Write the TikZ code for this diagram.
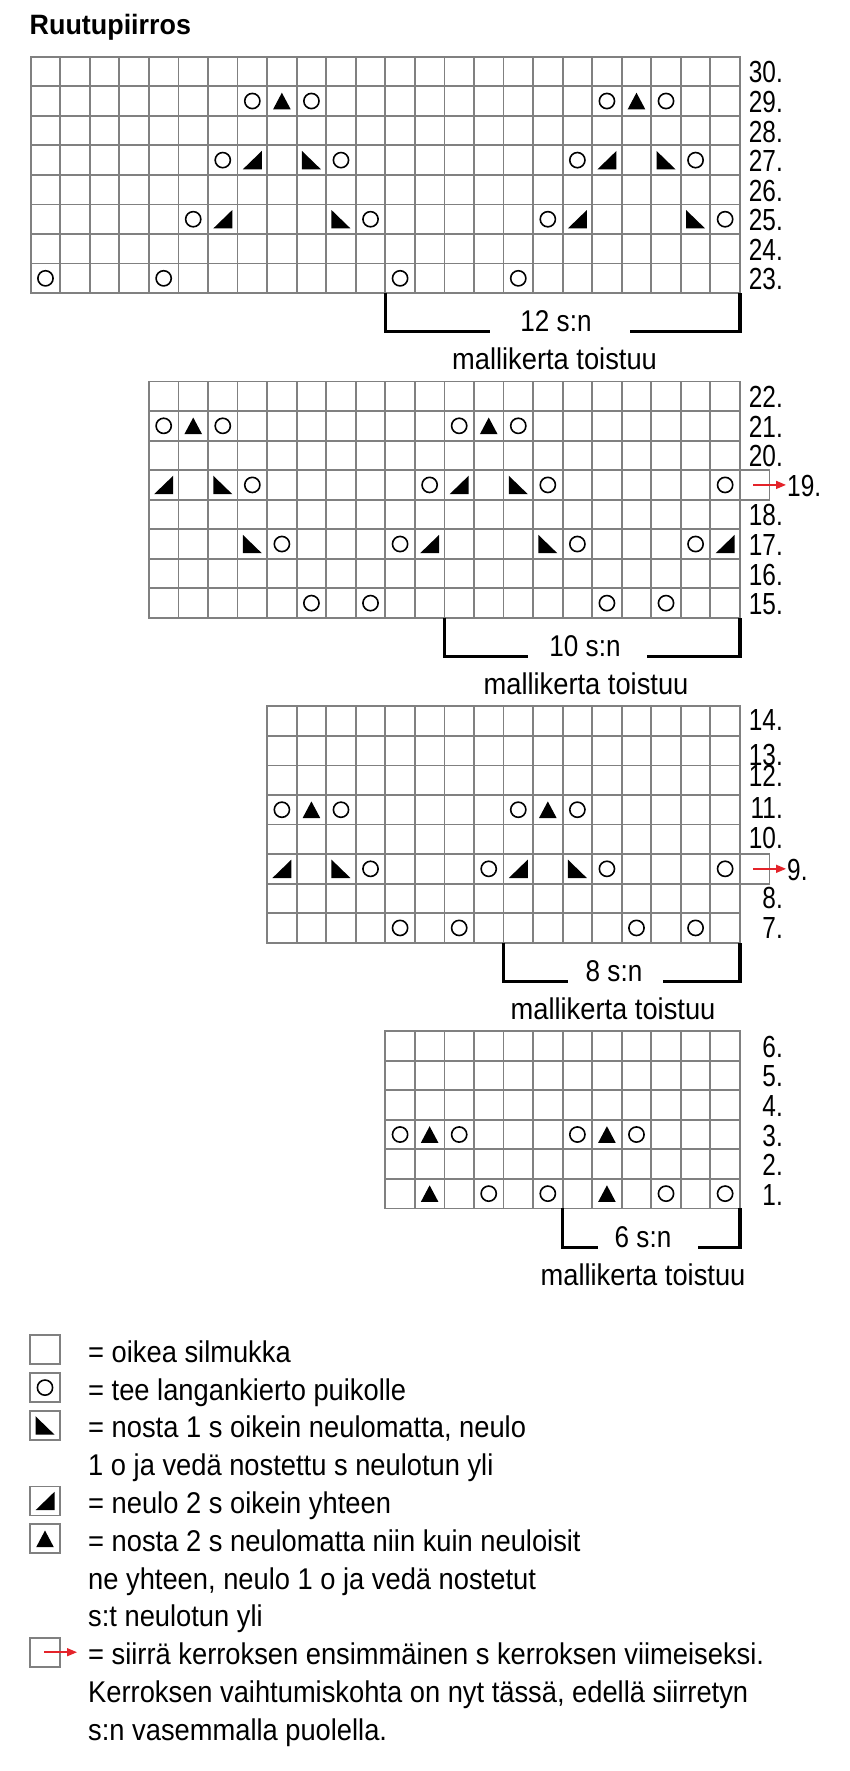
\documentclass[tikz,border=0pt]{standalone}
\usepackage{fontspec}
\setmainfont{Liberation Sans}
\newfontfamily\lblf[FakeStretch=0.8]{Liberation Sans}
\newfontfamily\legf[FakeStretch=0.91]{Liberation Sans}
\newfontfamily\repf[FakeStretch=0.87]{Liberation Sans}
\newfontfamily\titf[FakeStretch=0.96]{Liberation Sans}
\usetikzlibrary{arrows.meta}
\definecolor{gridgray}{HTML}{808080}
\definecolor{arrred}{HTML}{E4232A}
\begin{document}
\begin{tikzpicture}[x=1pt,y=-1pt,
  gridline/.style={draw=gridgray,line width=1.8pt,line cap=rect},
  brk/.style={draw=black,line width=3.6pt,line join=miter},
  redarr/.style={draw=arrred,line width=1.5pt,-{Triangle[length=10pt,width=8pt]}},
  lbl/.style={font=\lblf\fontsize{30.5}{30.5}\selectfont,inner sep=0pt,anchor=east},
  lblw/.style={font=\lblf\fontsize{30.5}{30.5}\selectfont,inner sep=0pt,anchor=west},
  leg/.style={font=\legf\fontsize{30}{36}\selectfont,inner sep=0pt,anchor=base west},
  cnt/.style={font=\legf\fontsize{30}{36}\selectfont,inner sep=0pt,anchor=base},
  rep/.style={font=\repf\fontsize{30}{36}\selectfont,inner sep=0pt,anchor=base},
  yo/.pic={\draw[line width=1.6pt] (0,0) circle[radius=7.6];},
  tri/.pic={\fill (-8.8,8.3) -- (8.8,8.3) -- (0,-8.3) -- cycle;},
  rt/.pic={\fill (-9.5,9.2) -- (9.5,9.2) -- (9.5,-9.2) -- cycle;},
  lt/.pic={\fill (-9.5,-9.2) -- (-9.5,9.2) -- (9.5,9.2) -- cycle;}
]
\def\cel{29.55}
\useasboundingbox[fill=white] (0,0) rectangle (850,1771);

% title
\node[font=\titf\bfseries\fontsize{28}{28}\selectfont,inner sep=0pt,anchor=base west] (title) at (29.5,35) {Ruutupiirros};

% ---------- chart 1 ----------
\begin{scope}[shift={(30.7,56.7)}]
\foreach \i in {0,...,24} \draw[gridline] ({\i*\cel},0) -- ({\i*\cel},{8*\cel});
\foreach \j in {0,...,8} \draw[gridline] (0,{\j*\cel}) -- ({24*\cel},{\j*\cel});
\foreach \c/\r in {8/2,10/2,20/2,22/2,7/4,11/4,19/4,23/4,6/6,12/6,18/6,24/6,1/8,5/8,13/8,17/8}
  \pic at ({(\c-0.5)*\cel},{(\r-0.5)*\cel}) {yo};
\foreach \c/\r in {9/2,21/2}
  \pic at ({(\c-0.5)*\cel},{(\r-0.5)*\cel}) {tri};
\foreach \c/\r in {8/4,20/4,7/6,19/6}
  \pic at ({(\c-0.5)*\cel},{(\r-0.5)*\cel}) {rt};
\foreach \c/\r in {10/4,22/4,11/6,23/6}
  \pic at ({(\c-0.5)*\cel},{(\r-0.5)*\cel}) {lt};
\end{scope}
\foreach \n/\r in {30/1,29/2,28/3,27/4,26/5,25/6,24/7,23/8}
  \node[lbl] (r\n) at (783,{56.7+(\r-0.5)*\cel+1}) {\n.};
\draw[brk] (385.3,293.1) -- (385.3,331.6) -- (490,331.6);
\draw[brk] (630,331.6) -- (739.9,331.6) -- (739.9,293.1);
\node[rep] (rep1) at (556,331.6) {12 s:n};
\node[cnt] (mk1) at (554.5,369.5) {mallikerta toistuu};

% ---------- chart 2 ----------
\begin{scope}[shift={(148.9,381.5)}]
\foreach \i in {0,...,20} \draw[gridline] ({\i*\cel},0) -- ({\i*\cel},{8*\cel});
\foreach \j in {0,...,8} \draw[gridline] (0,{\j*\cel}) -- ({20*\cel},{\j*\cel});
\draw[gridline] ({20*\cel},{3*\cel}) rectangle ({21*\cel},{4*\cel});
\foreach \c/\r in {1/2,3/2,11/2,13/2,4/4,10/4,14/4,20/4,5/6,9/6,15/6,19/6,6/8,8/8,16/8,18/8}
  \pic at ({(\c-0.5)*\cel},{(\r-0.5)*\cel}) {yo};
\foreach \c/\r in {2/2,12/2}
  \pic at ({(\c-0.5)*\cel},{(\r-0.5)*\cel}) {tri};
\foreach \c/\r in {1/4,11/4,10/6,20/6}
  \pic at ({(\c-0.5)*\cel},{(\r-0.5)*\cel}) {rt};
\foreach \c/\r in {3/4,13/4,4/6,14/6}
  \pic at ({(\c-0.5)*\cel},{(\r-0.5)*\cel}) {lt};
\end{scope}
\foreach \n/\r in {22/1,21/2,20/3,18/5,17/6,16/7,15/8}
  \node[lbl] (r\n) at (783,{381.5+(\r-0.5)*\cel+1}) {\n.};
\node[lblw] (r19) at (787,{381.5+3.5*\cel+1}) {19.};
\coordinate (a19) at (753,{381.5+3.5*\cel});
\draw[redarr] (a19) -- (786,{381.5+3.5*\cel});
\draw[brk] (444.4,617.9) -- (444.4,656.4) -- (528,656.4);
\draw[brk] (647,656.4) -- (739.9,656.4) -- (739.9,617.9);
\node[rep] (rep2) at (585,656.4) {10 s:n};
\node[cnt] (mk2) at (586,694.4) {mallikerta toistuu};

% ---------- chart 3 ----------
\begin{scope}[shift={(267.1,706.3)}]
\foreach \i in {0,...,16} \draw[gridline] ({\i*\cel},0) -- ({\i*\cel},{8*\cel});
\foreach \j in {0,...,8} \draw[gridline] (0,{\j*\cel}) -- ({16*\cel},{\j*\cel});
\draw[gridline] ({16*\cel},{5*\cel}) rectangle ({17*\cel},{6*\cel});
\foreach \c/\r in {1/4,3/4,9/4,11/4,4/6,8/6,12/6,16/6,5/8,7/8,13/8,15/8}
  \pic at ({(\c-0.5)*\cel},{(\r-0.5)*\cel}) {yo};
\foreach \c/\r in {2/4,10/4}
  \pic at ({(\c-0.5)*\cel},{(\r-0.5)*\cel}) {tri};
\foreach \c/\r in {1/6,9/6}
  \pic at ({(\c-0.5)*\cel},{(\r-0.5)*\cel}) {rt};
\foreach \c/\r in {3/6,11/6}
  \pic at ({(\c-0.5)*\cel},{(\r-0.5)*\cel}) {lt};
\end{scope}
\foreach \n/\r/\o in {14/1/-1,13/2/4,12/3/-4,11/4/-2,10/5/-1,8/7/0,7/8/0}
  \node[lbl] (r\n) at (783,{706.3+(\r-0.5)*\cel+\o}) {\n.};
\node[lblw] (r9) at (787,{706.3+5.5*\cel+1}) {9.};
\coordinate (a9) at (753,{706.3+5.5*\cel});
\draw[redarr] (a9) -- (786,{706.3+5.5*\cel});
\draw[brk] (503.5,942.7) -- (503.5,981.5) -- (568,981.5);
\draw[brk] (663,981.5) -- (739.9,981.5) -- (739.9,942.7);
\node[rep] (rep3) at (614,981.5) {8 s:n};
\node[cnt] (mk3) at (613,1019.5) {mallikerta toistuu};

% ---------- chart 4 ----------
\begin{scope}[shift={(385.3,1031.1)}]
\foreach \i in {0,...,12} \draw[gridline] ({\i*\cel},0) -- ({\i*\cel},{6*\cel});
\foreach \j in {0,...,6} \draw[gridline] (0,{\j*\cel}) -- ({12*\cel},{\j*\cel});
\foreach \c/\r in {1/4,3/4,7/4,9/4,4/6,6/6,10/6,12/6}
  \pic at ({(\c-0.5)*\cel},{(\r-0.5)*\cel}) {yo};
\foreach \c/\r in {2/4,8/4,2/6,8/6}
  \pic at ({(\c-0.5)*\cel},{(\r-0.5)*\cel}) {tri};
\end{scope}
\foreach \n/\r in {6/1,5/2,4/3,3/4,2/5,1/6}
  \node[lbl] (r\n) at (783,{1031.1+(\r-0.5)*\cel+1}) {\n.};
\draw[brk] (562.6,1208.4) -- (562.6,1247.5) -- (598,1247.5);
\draw[brk] (698,1247.5) -- (739.9,1247.5) -- (739.9,1208.4);
\node[rep] (rep4) at (643,1247.5) {6 s:n};
\node[cnt] (mk4) at (643,1285.5) {mallikerta toistuu};

% ---------- legend ----------
\def\lb{1362.3}\def\ls{37.8}
\foreach \i/\txt in {1/{= oikea silmukka},2/{= tee langankierto puikolle},3/{= nosta 1 s oikein neulomatta, neulo},4/{1 o ja vedä nostettu s neulotun yli},5/{= neulo 2 s oikein yhteen},6/{= nosta 2 s neulomatta niin kuin neuloisit},7/{ne yhteen, neulo 1 o ja vedä nostetut},8/{s:t neulotun yli},9/{= siirrä kerroksen ensimmäinen s kerroksen viimeiseksi.},10/{Kerroksen vaihtumiskohta on nyt tässä, edellä siirretyn},11/{s:n vasemmalla puolella.}}
  \node[leg] (t\i) at (88,{\lb+(\i-1)*\ls}) {\txt};
\foreach \i in {1,2,3,5,6,9}
  \draw[gridline] (30,{\lb+(\i-1)*\ls-12.5-14.5}) rectangle (60,{\lb+(\i-1)*\ls-12.5+14.5});
\pic at (45,{\lb+1*\ls-12.5}) {yo};
\pic at (45,{\lb+2*\ls-12.5}) {lt};
\pic at (45,{\lb+4*\ls-12.5}) {rt};
\pic at (45,{\lb+5*\ls-12.5}) {tri};
\coordinate (la) at (44,{\lb+8*\ls-12.5});
\draw[redarr] (la) -- (77,{\lb+8*\ls-12.5});
\end{tikzpicture}
\end{document}
